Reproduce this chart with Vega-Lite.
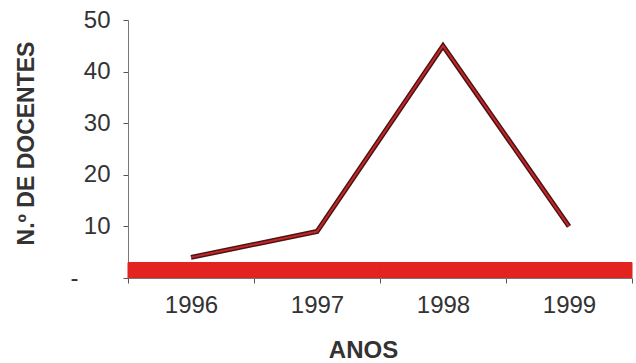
{
  "$schema": "https://vega.github.io/schema/vega-lite/v6.json",
  "autosize": {"type": "none"},
  "padding": {"left": 128, "top": 20, "right": 4, "bottom": 85},
  "width": 504,
  "height": 258,
  "background": "white",
  "config": {
    "view": {"stroke": null},
    "font": "Liberation Sans",
    "axis": {"labelColor": "#333333", "titleColor": "#333333", "domainColor": "#777777", "tickColor": "#555555", "grid": false}
  },
  "data": {"values": [
    {"ano": "1996", "docentes": 4, "base": 3},
    {"ano": "1997", "docentes": 9, "base": 3},
    {"ano": "1998", "docentes": 45, "base": 3},
    {"ano": "1999", "docentes": 10, "base": 3}
  ]},
  "encoding": {
    "x": {"field": "ano", "type": "ordinal", "scale": {"paddingInner": 0, "paddingOuter": 0},
      "axis": {"title": "ANOS", "labelAngle": 0, "labelFontSize": 24, "labelPadding": 10, "tickBand": "extent", "tickSize": 5,
        "titleFontSize": 24, "titleFontWeight": "bold", "titleX": 235, "titleY": 72, "titleBaseline": "middle"}}
  },
  "layer": [
    {
      "mark": {"type": "rect", "color": "#e3231f", "stroke": "#e3231f", "strokeWidth": 1},
      "encoding": {
        "y": {"field": "base", "type": "quantitative", "scale": {"domain": [0, 50]},
          "axis": {"title": "N.º DE DOCENTES", "values": [0, 10, 20, 30, 40, 50], "labelExpr": "datum.value == 0 ? '-' : datum.label",
            "labelFontSize": 24, "labelPadding": {"condition": {"test": "datum.value == 0", "value": 45}, "value": 13},
            "tickSize": 5, "titleFontSize": 23, "titleFontWeight": "bold",
            "titleX": -90, "titleY": 123, "titleBaseline": "bottom"}},
        "y2": {"datum": 0}
      }
    },
    {
      "mark": {"type": "line", "color": "#4a1414", "strokeWidth": 5},
      "encoding": {
        "y": {"field": "docentes", "type": "quantitative"}
      }
    },
    {
      "mark": {"type": "line", "color": "#c4262a", "strokeWidth": 2},
      "encoding": {
        "y": {"field": "docentes", "type": "quantitative"}
      }
    }
  ]
}
